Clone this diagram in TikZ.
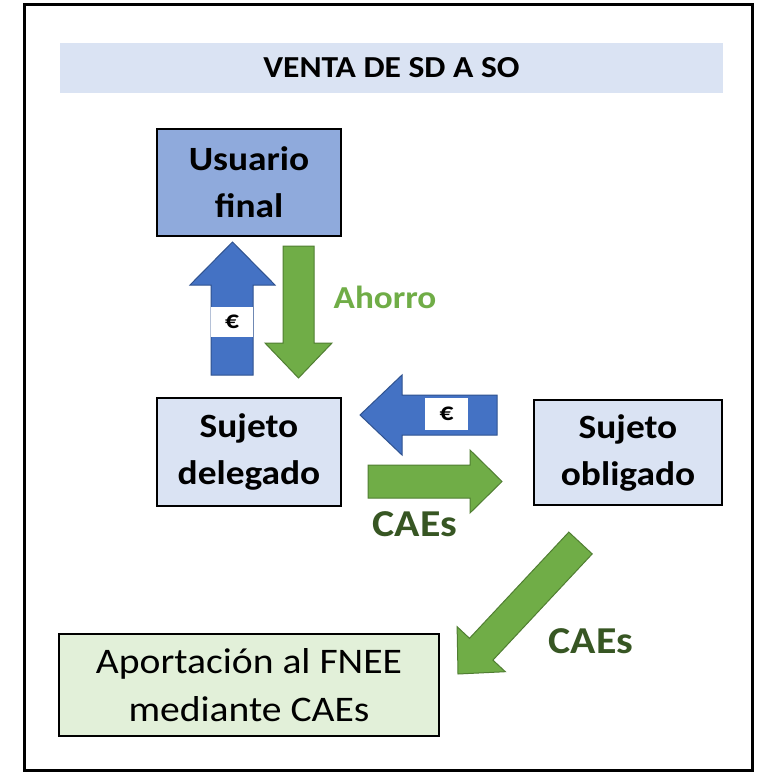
\documentclass[tikz,border=0pt]{standalone}
\usepackage{fontspec}
\setmainfont{Carlito}[FakeStretch=1.1]
\definecolor{titlebg}{HTML}{DAE3F3}
\definecolor{userfill}{HTML}{8FAADC}
\definecolor{sujfill}{HTML}{DAE3F3}
\definecolor{aportfill}{HTML}{E2F0D9}
\definecolor{bluearr}{HTML}{4472C4}
\definecolor{bluedge}{HTML}{2F528F}
\definecolor{greenarr}{HTML}{70AD47}
\definecolor{greenedge}{HTML}{507E32}
\definecolor{darkgreen}{HTML}{375623}
\tikzset{
  boxnode/.style={draw=black, line width=2.5pt, align=center, inner sep=0pt,
    font=\fontsize{34}{47}\selectfont\bfseries},
  bluearrow/.style={fill=bluearr, draw=bluedge, line width=1pt, line join=miter},
  greenarrow/.style={fill=greenarr, draw=greenedge, line width=1pt, line join=miter},
  eurobox/.style={fill=white, inner sep=0pt, font=\fontsize{25}{26}\selectfont\bfseries},
  lbl/.style={inner sep=0pt, font=\fontsize{38}{40}\selectfont\bfseries}
}
\begin{document}
\begin{tikzpicture}[x=1pt,y=-1pt]
\useasboundingbox (0,0) rectangle (756,773);
\fill[white] (0,0) rectangle (756,773);
\draw[line width=3pt] (24,5) rectangle (752,770);
\node[fill=titlebg, minimum width=663pt, minimum height=50pt, inner sep=0pt,
  font=\fontsize{30.5}{36}\selectfont\bfseries] (title) at (391.5,68) {VENTA DE SD A SO};

\node[boxnode, fill=userfill, minimum width=184pt, minimum height=107pt] (usuario) at (249,182.5) {Usuario\\final};
\node[boxnode, fill=sujfill, minimum width=184pt, minimum height=108pt] (delegado) at (249,452) {Sujeto\\delegado};
\node[boxnode, fill=sujfill, minimum width=188pt, minimum height=105pt] (obligado) at (628,452.5) {Sujeto\\obligado};
\node[boxnode, fill=aportfill, minimum width=380pt, minimum height=102pt,
  font=\fontsize{36}{48}\selectfont] (aport) at (249,685) {Aportación al FNEE\\mediante CAEs};

% blue up arrow (delegado -> usuario)
\draw[bluearrow] (211,375) -- (211,285) -- (190,285) -- (232.5,242) -- (275,285) -- (253,285) -- (253,375) -- cycle;
\node[eurobox, minimum width=42pt, minimum height=30pt] (euro1) at (232,322) {€};

% green down arrow (usuario -> delegado)
\draw[greenarrow] (283,246) -- (314,246) -- (314,343) -- (332,343) -- (298.5,378) -- (265,343) -- (283,343) -- cycle;
\node[lbl, text=greenarr, font=\fontsize{32}{34}\selectfont\bfseries] (ahorro) at (385,297) {Ahorro};

% blue left arrow (obligado -> delegado)
\draw[bluearrow] (497,395) -- (402,395) -- (402,375) -- (360,415) -- (402,455) -- (402,435) -- (497,435) -- cycle;
\node[eurobox, minimum width=43pt, minimum height=32pt] (euro2) at (446.5,414) {€};

% green right arrow (delegado -> obligado)
\draw[greenarrow] (368,465) -- (470,465) -- (470,450) -- (502,481.5) -- (470,513) -- (470,498) -- (368,498) -- cycle;
\node[lbl, text=darkgreen] (caes1) at (415,524) {CAEs};

% green diagonal arrow (obligado -> aportacion)
\draw[greenarrow] (568.8,532.1) -- (469.5,638.3) -- (457.1,626.7) -- (458,674) -- (505.3,671.7) -- (492.9,660.1) -- (592.2,553.9) -- cycle;
\node[lbl, text=darkgreen] (caes2) at (591,641) {CAEs};
\end{tikzpicture}
\end{document}
